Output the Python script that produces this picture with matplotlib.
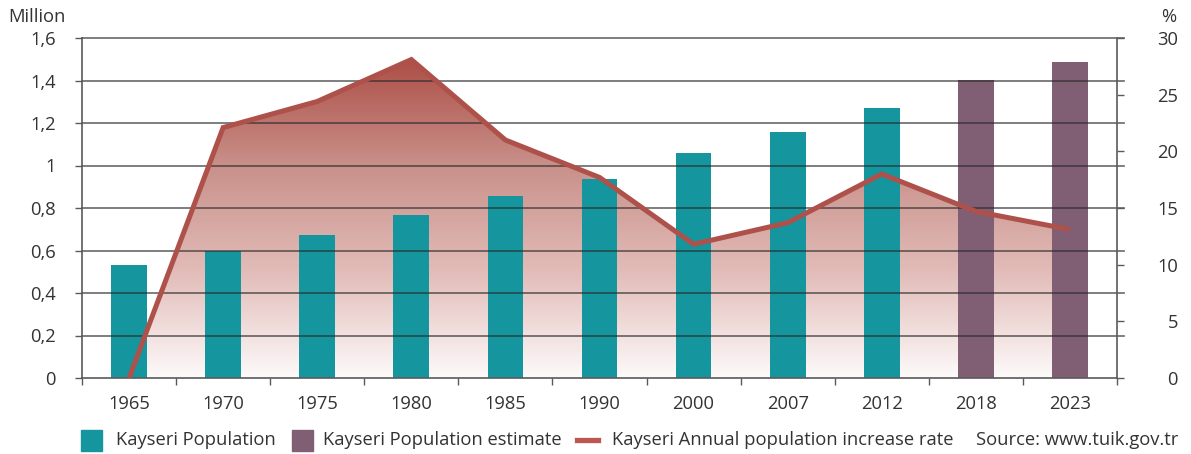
import matplotlib
matplotlib.use("Agg")
import matplotlib.pyplot as plt
import numpy as np
from matplotlib.colors import LinearSegmentedColormap
from matplotlib.patches import Rectangle
from matplotlib.lines import Line2D

plt.rcParams['font.family'] = ['Open Sans', 'DejaVu Sans']

years = ['1965', '1970', '1975', '1980', '1985', '1990', '2000', '2007', '2012', '2018', '2023']
population = [0.532, 0.598, 0.673, 0.767, 0.857, 0.936, 1.059, 1.158, 1.271, None, None]
population_estimate = [None, None, None, None, None, None, None, None, None, 1.402, 1.487]
increase_rate = [0.0, 22.1, 24.4, 28.1, 21.0, 17.7, 11.8, 13.7, 18.0, 14.7, 13.1]

left_ticks = [0, 0.2, 0.4, 0.6, 0.8, 1.0, 1.2, 1.4, 1.6]
left_labels = ['0', '0,2', '0,4', '0,6', '0,8', '1', '1,2', '1,4', '1,6']
right_ticks = [0, 5, 10, 15, 20, 25, 30]

TEAL = '#15959e'
PURPLE = '#805e74'
RED = '#ad514a'
TXT = '#333333'
SPINE = '#5a5a5a'
FS = 13.2

W, H = 1191, 454
fig = plt.figure(figsize=(W / 100, H / 100), dpi=100)
pos = [82 / W, 1 - 378 / H, (1117 - 82) / W, (378 - 38) / H]

x = np.arange(len(years))
xlim = (-0.5, len(years) - 0.5)

# bottom layer: gradient fill under the rate line
ax_fill = fig.add_axes(pos, zorder=1)
ax_fill.set_xlim(*xlim)
ax_fill.set_ylim(0, 30)
ax_fill.axis('off')
cmap = LinearSegmentedColormap.from_list('g', ['#fdfafa', '#e2bcb8', '#c9908a', '#ad4f47'])
grad = np.linspace(0, 1, 256).reshape(-1, 1)
top = max(increase_rate)
im = ax_fill.imshow(grad, cmap=cmap, origin='lower', aspect='auto',
                    extent=[x[0], x[-1], 0, top], interpolation='bicubic')
poly = ax_fill.fill_between(x, increase_rate, 0, color='none', lw=0)
path = poly.get_paths()[0]
im.set_clip_path(path, transform=ax_fill.transData)

# middle layer: bars, gridlines, left axis
ax = fig.add_axes(pos, zorder=2)
ax.patch.set_alpha(0)
ax.set_xlim(*xlim)
ax.set_ylim(0, 1.6)
pop = np.array([np.nan if v is None else v for v in population])
est = np.array([np.nan if v is None else v for v in population_estimate])
ax.bar(x, pop, width=0.38, color=TEAL, zorder=2, label='Kayseri Population')
ax.bar(x, est, width=0.38, color=PURPLE, zorder=2, label='Kayseri Population estimate')
for t in left_ticks[1:]:
    ax.axhline(t, color='#2a2a2a', alpha=0.7, lw=1.2, zorder=3, xmax=1.007, clip_on=False)
ax.set_yticks(left_ticks)
ax.set_yticklabels(left_labels)
ax.set_xticks(x)
ax.set_xticklabels(years)
ax.set_xticks(np.arange(-0.5, len(years)), minor=True)
ax.tick_params(axis='x', which='major', length=0, pad=12, labelsize=FS, labelcolor=TXT)
ax.tick_params(axis='x', which='minor', length=5, width=1, color=SPINE, direction='out')
ax.tick_params(axis='y', length=5, width=1, color=SPINE, pad=14, labelsize=FS, labelcolor=TXT)
for s in ['top', 'right']:
    ax.spines[s].set_visible(False)
for s in ['left', 'bottom']:
    ax.spines[s].set_color(SPINE)
    ax.spines[s].set_linewidth(1.2)
    ax.spines[s].set_zorder(4)

# top layer: rate line, right axis
ax2 = fig.add_axes(pos, zorder=3)
ax2.patch.set_alpha(0)
ax2.set_xlim(*xlim)
ax2.set_ylim(0, 30)
ax2.plot(x, increase_rate, color=RED, lw=3.6, solid_joinstyle='miter', solid_capstyle='butt')
ax2.yaxis.tick_right()
ax2.set_yticks(right_ticks)
ax2.set_yticklabels([str(v) for v in right_ticks])
ax2.tick_params(axis='y', length=5, width=1, color=SPINE, pad=39, labelsize=FS, labelcolor=TXT)
for lab in ax2.get_yticklabels():
    lab.set_horizontalalignment('right')
ax2.set_xticks([])
for s in ['top', 'left', 'bottom']:
    ax2.spines[s].set_visible(False)
ax2.spines['right'].set_color(SPINE)
ax2.spines['right'].set_linewidth(1.2)

fig.text(8 / W, 1 - 17 / H, 'Million', fontsize=FS, color=TXT, va='center', ha='left')
fig.text(1169 / W, 1 - 17 / H, '%', fontsize=FS, color=TXT, va='center', ha='center')

# legend row
ly = 1 - 440 / H
def fx(px):
    return px / W
fig.patches.append(Rectangle((fx(81), 1 - 451 / H), 21 / W, 21 / H, transform=fig.transFigure,
                             color=TEAL, figure=fig))
fig.text(fx(116), ly, 'Kayseri Population', fontsize=FS, color=TXT, va='center')
fig.patches.append(Rectangle((fx(292), 1 - 451 / H), 21 / W, 21 / H, transform=fig.transFigure,
                             color=PURPLE, figure=fig))
fig.text(fx(323), ly, 'Kayseri Population estimate', fontsize=FS, color=TXT, va='center')
fig.lines.append(Line2D([fx(577), fx(598)], [ly, ly], transform=fig.transFigure,
                        color='#bb5650', lw=3.8, figure=fig))
fig.text(fx(612), ly, 'Kayseri Annual population increase rate', fontsize=FS, color=TXT, va='center')
fig.text(fx(1178), ly, 'Source: www.tuik.gov.tr', fontsize=FS, color=TXT, va='center', ha='right')

fig.savefig('out.png', dpi=100)
